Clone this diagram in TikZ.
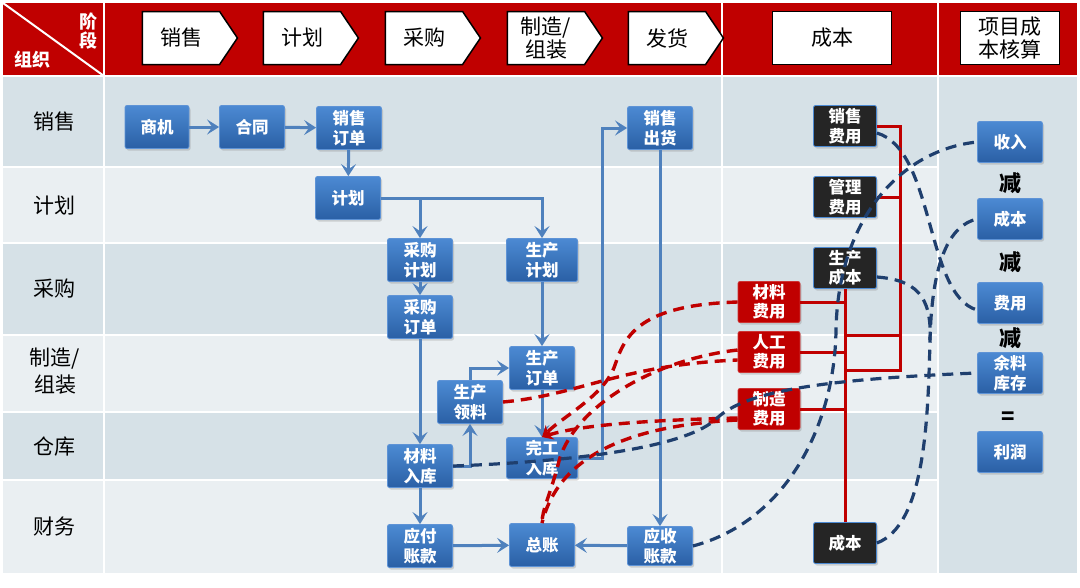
\documentclass[tikz,border=0pt]{standalone}
\usepackage{fontspec}
\setmainfont{Noto Sans CJK SC}
\usetikzlibrary{arrows.meta, shapes.symbols, shadows, positioning}
\definecolor{hdrred}{HTML}{C00000}
\definecolor{rowdark}{HTML}{D6E1E7}
\definecolor{rowlight}{HTML}{EAEFF2}
\definecolor{boxtop}{HTML}{4C8AD3}
\definecolor{boxbot}{HTML}{2A5FA5}
\definecolor{boxedge}{HTML}{5E93D6}
\definecolor{flowblue}{HTML}{4F81BD}
\definecolor{navy}{HTML}{1F3F6E}
\definecolor{costblack}{HTML}{252525}
\tikzstyle{stage} = [signal, signal to=east, signal pointer angle=112, draw=black, line width=1.5pt, fill=white, minimum width=95pt, minimum height=53pt, inner sep=0pt, font=\fontsize{21}{23}\selectfont, align=center]
\tikzstyle{stagebox} = [rectangle, draw=black, line width=1.5pt, fill=white, minimum height=53pt, inner sep=0pt, font=\fontsize{21}{23}\selectfont, align=center]
\tikzstyle{rowlabel} = [font=\fontsize{21}{27}\selectfont, align=center]
\tikzstyle{cornertext} = [text=white, font=\fontsize{18}{19}\selectfont\bfseries, align=center]
\tikzstyle{flowbox} = [rectangle, rounded corners=2pt, minimum width=65pt, minimum height=43pt, inner sep=0pt, top color=boxtop, bottom color=boxbot, draw=boxedge, line width=0.8pt, text=white, font=\fontsize{16.5}{19.5}\selectfont\bfseries, align=center, drop shadow={shadow xshift=1.5pt, shadow yshift=-2pt, opacity=0.3}]
\tikzstyle{costbox} = [flowbox, top color=costblack, bottom color=costblack, draw=boxtop, minimum width=63pt, minimum height=41pt]
\tikzstyle{feebox} = [flowbox, top color=hdrred, bottom color=hdrred, draw=hdrred!80!white, minimum width=62pt, minimum height=41pt]
\tikzstyle{flowline} = [draw=flowblue, line width=3pt, -{Stealth[length=12pt, width=15pt, inset=5pt]}]
\tikzstyle{costtree} = [draw=hdrred, line width=3pt]
\tikzstyle{costlink} = [draw=navy, line width=3.2pt, dash pattern=on 11pt off 7pt]
\tikzstyle{feelink} = [draw=hdrred, line width=3.4pt, dash pattern=on 11pt off 7pt]
\tikzstyle{opsign} = [font=\fontsize{22}{22}\selectfont\bfseries]
\begin{document}
\begin{tikzpicture}[x=1pt, y=-1pt]
\useasboundingbox (0,0) rectangle (1080,587);
\fill[hdrred] (3,3) rectangle (1077,76);
\fill[rowdark] (3,76) rectangle (1077,167);
\fill[rowlight] (3,167) rectangle (938,243);
\fill[rowdark] (3,243) rectangle (938,335);
\fill[rowlight] (3,335) rectangle (938,412);
\fill[rowdark] (3,412) rectangle (938,480);
\fill[rowlight] (3,480) rectangle (938,573);
\fill[rowdark] (938,76) rectangle (1077,573);
\foreach \y in {167,243,335,412,480} \draw[white, line width=2pt] (3,\y) -- (938,\y);
\draw[white, line width=2pt] (3,76) -- (1077,76);
\foreach \x in {104,722,938} \draw[white, line width=2pt] (\x,3) -- (\x,573);
\draw[white, line width=2pt] (3,3) -- (104,76);

\node (stageLbl) [cornertext] at (88,31) {阶\\段};
\node (orgLbl) [cornertext] at (32,60) {组织};
\node (hSales) [stage] at (181,38) {销售};
\node (hPlan) [stage] at (302,38) {计划};
\node (hPur) [stage] at (424,38) {采购};
\node (hMfg) [stage] at (546,38) {制造/\\组装};
\node (hShip) [stage] at (667,38) {发货};
\node (hCost) [stagebox, minimum width=119pt] at (832,38) {成本};
\node (hCalc) [stagebox, minimum width=99pt] at (1010,38) {项目成\\本核算};

\node (rSales) [rowlabel] at (55,122) {销售};
\node (rPlan) [rowlabel] at (55,206) {计划};
\node (rPur) [rowlabel] at (55,289) {采购};
\node (rMfg) [rowlabel] at (55,371) {制造/\\组装};
\node (rStore) [rowlabel] at (55,447) {仓库};
\node (rFin) [rowlabel] at (55,526) {财务};

\node (lead) [flowbox, minimum width=64pt] at (157,127) {商机};
\node (contract) [flowbox] at (252,127) {合同};
\node (salesOrd) [flowbox] at (349,128) {销售\\订单};
\node (ship) [flowbox] at (660,128) {销售\\出货};
\node (plan) [flowbox] at (348,198) {计划};
\node (purPlan) [flowbox] at (420,260) {采购\\计划};
\node (prodPlan) [flowbox, minimum width=71pt] at (542,260) {生产\\计划};
\node (purOrd) [flowbox] at (420,317) {采购\\订单};
\node (prodOrd) [flowbox] at (542,368) {生产\\订单};
\node (pickMat) [flowbox] at (470,402) {生产\\领料};
\node (matIn) [flowbox] at (420,466) {材料\\入库};
\node (finIn) [flowbox, minimum width=71pt, minimum height=41pt] at (542,458) {完工\\入库};
\node (apAcct) [flowbox] at (420,546) {应付\\账款};
\node (gl) [flowbox] at (542,545) {总账};
\node (arAcct) [flowbox, minimum height=39pt] at (660,546) {应收\\账款};

\node (sellFee) [costbox] at (845,126) {销售\\费用};
\node (mgmtFee) [costbox] at (845,197) {管理\\费用};
\node (prodCost) [costbox] at (845,268) {生产\\成本};
\node (costB) [costbox] at (845,543) {成本};
\node (matFee) [feebox] at (769,302) {材料\\费用};
\node (labFee) [feebox] at (769,352) {人工\\费用};
\node (mfgFee) [feebox] at (769,409) {制造\\费用};

\node (income) [flowbox, minimum height=41pt] at (1010,142) {收入};
\node (minus1) [opsign] at (1010,183) {减};
\node (costR) [flowbox, minimum height=41pt] at (1010,219) {成本};
\node (minus2) [opsign] at (1010,262) {减};
\node (feeR) [flowbox, minimum height=41pt] at (1010,303) {费用};
\node (minus3) [opsign] at (1010,338) {减};
\node (remain) [flowbox, minimum height=41pt] at (1010,373) {余料\\库存};
\node (equals) [opsign] at (1008,418) {=};
\node (profit) [flowbox, minimum height=41pt] at (1010,452) {利润};

\coordinate (busEnd) at (900,370);
\coordinate (busMid) at (900,335);
\draw[costtree] (sellFee.east) -| (busEnd) -- (busEnd -| costB.north);
\draw[costtree] (mgmtFee.east) -- (mgmtFee.east -| busEnd);
\draw[costtree] (busMid) -- (busMid -| costB.north);
\draw[costtree] (prodCost.south) -- (costB.north);
\draw[costtree] (matFee.east) -- (matFee.east -| costB.north);
\draw[costtree] (labFee.east) -- (labFee.east -| costB.north);
\draw[costtree] (mfgFee.east) -- (mfgFee.east -| costB.north);

\coordinate (shipBus) at (602,128);
\draw[flowline] (lead) -- (contract);
\draw[flowline] (contract) -- (salesOrd);
\draw[flowline] (salesOrd) -- (plan);
\draw[flowline] (plan.east) -| (prodPlan.north);
\draw[flowline] (plan.east -| purPlan.north) -- (purPlan.north);
\draw[flowline] (purPlan) -- (purOrd);
\draw[flowline] (purOrd) -- (matIn);
\draw[flowline] (prodPlan) -- (prodOrd);
\draw[flowline] (prodOrd) -- (finIn);
\draw[flowline] (matIn.east) -| (pickMat.south);
\draw[flowline] (pickMat.north) |- (prodOrd.west);
\draw[flowline] (finIn.east) -| (shipBus) -- (ship.west);
\draw[flowline] (ship) -- (arAcct);
\draw[flowline] (matIn) -- (apAcct);
\draw[flowline] (apAcct) -- (gl);
\draw[flowline] (arAcct) -- (gl);

\coordinate (merge) at (930,340);
\draw[feelink] (pickMat.east) .. controls (580,395) and (620,365) .. ([yshift=-8pt]labFee.west);
\draw[feelink, -{Stealth[length=11pt, width=12pt]}] (matFee.west) .. controls (640,305) and (625,335) .. (615,365) .. controls (605,395) and (565,415) .. (finIn.north);
\draw[feelink, -{Stealth[length=11pt, width=12pt]}] ([yshift=-9pt]mfgFee.west) .. controls (650,420) and (580,425) .. (finIn.north);
\draw[feelink] ([yshift=2pt]labFee.west) .. controls (650,360) and (570,410) .. (558,465) .. controls (550,495) and (542,510) .. (gl.north);
\draw[feelink] ([yshift=-11pt]mfgFee.west) .. controls (640,425) and (560,450) .. (gl.north);

\draw[costlink] ([yshift=-7pt]sellFee.east) .. controls (935,150) and (925,295) .. ([yshift=-7pt]feeR.west);
\draw[costlink] (arAcct.east) .. controls (790,520) and (835,420) .. (836,330) .. controls (838,220) and (900,150) .. (income.west);
\draw[costlink] (costB.east) .. controls (925,525) and (928,420) .. (merge) .. controls (932,260) and (950,225) .. (costR.west);
\draw[costlink] ([yshift=-9pt]prodCost.east) .. controls (915,280) and (932,295) .. (merge);
\draw[costlink] (matIn.east) .. controls (560,462) and (680,450) .. (715,420) .. controls (740,395) and (800,380) .. (remain.west);
\end{tikzpicture}
\end{document}
